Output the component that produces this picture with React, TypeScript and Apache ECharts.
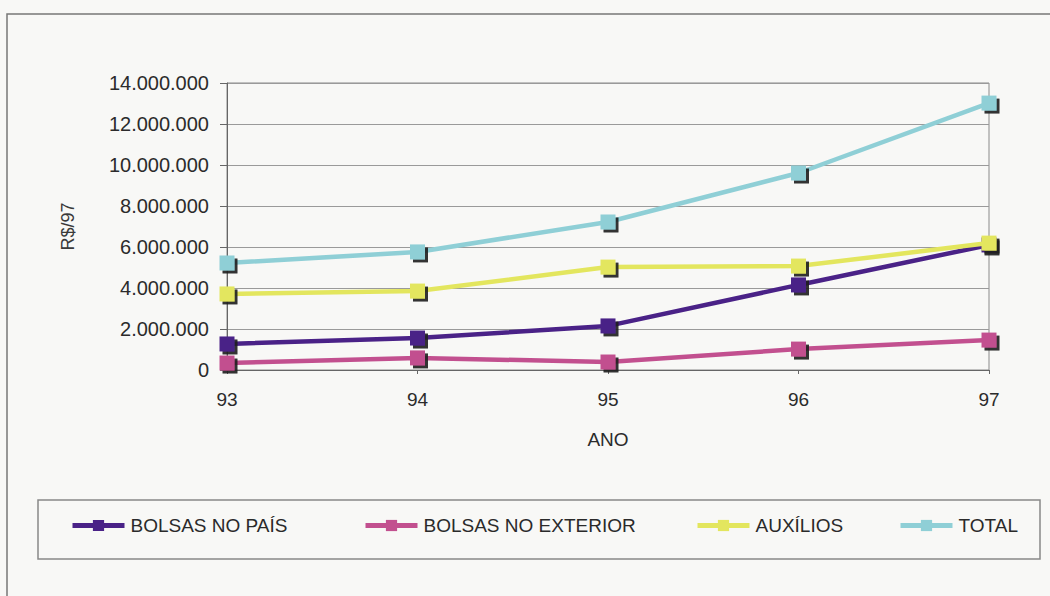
import React, { useEffect, useRef } from "react";
import * as echarts from "echarts";

// Anos e valores (R$ de 1997)
const years = ["93", "94", "95", "96", "97"];
const bolsasNoPais = [1270000, 1560000, 2150000, 4150000, 6100000];
const bolsasNoExterior = [340000, 590000, 390000, 1020000, 1460000];
const auxilios = [3710000, 3850000, 5020000, 5070000, 6190000];
const total = [5220000, 5760000, 7220000, 9610000, 13020000];

const seriesNames = ["BOLSAS NO PAÍS", "BOLSAS NO EXTERIOR", "AUXÍLIOS", "TOTAL"];
const seriesColors = ["#4a2287", "#c2508f", "#e3e65e", "#8fcfd6"];
const legendLeft = [70, 363, 695, 898];

const fmt = (v: number) =>
  String(v).replace(/\B(?=(\d{3})+(?!\d))/g, ".");

export default function App() {
  const ref = useRef<HTMLDivElement>(null);

  useEffect(() => {
    if (!ref.current) return;
    const chart = echarts.init(ref.current, null, { renderer: "svg" });
    const font = "'Liberation Sans', Arial, sans-serif";
    const dataSets = [bolsasNoPais, bolsasNoExterior, auxilios, total];

    chart.setOption({
      animation: false,
      backgroundColor: "#f8f8f6",
      textStyle: { fontFamily: font },
      grid: {
        left: 227,
        right: 61,
        top: 83,
        bottom: 226,
        show: true,
        borderColor: "#8a8a8a",
        borderWidth: 1,
        backgroundColor: "transparent",
      },
      xAxis: {
        type: "category",
        data: years,
        boundaryGap: false,
        name: "ANO",
        nameLocation: "middle",
        nameGap: 60,
        nameTextStyle: { fontSize: 19, color: "#2b2b2b", fontFamily: font },
        axisLine: { lineStyle: { color: "#666", width: 1 } },
        axisTick: { show: true, length: 4, lineStyle: { color: "#666" } },
        axisLabel: { fontSize: 19, color: "#2b2b2b", margin: 20, fontFamily: font },
      },
      yAxis: {
        type: "value",
        min: 0,
        max: 14000000,
        interval: 2000000,
        name: "R$/97",
        nameLocation: "middle",
        nameGap: 150,
        nameRotate: 90,
        nameTextStyle: { fontSize: 18, color: "#3a3a3a", fontFamily: font },
        axisLine: { show: true, lineStyle: { color: "#666", width: 1 } },
        axisTick: { show: true, length: 7, lineStyle: { color: "#666" } },
        axisLabel: {
          fontSize: 20,
          color: "#2b2b2b",
          margin: 18,
          fontFamily: font,
          formatter: (v: number) => fmt(v),
        },
        splitLine: { show: true, lineStyle: { color: "#9a9a9a", width: 1 } },
      },
      legend: seriesNames.map((name, i) => ({
        data: [name],
        left: legendLeft[i],
        top: 516,
        padding: 0,
        itemWidth: 52,
        itemHeight: 14,
        itemGap: 0,
        lineStyle: { width: 5 },
        textStyle: { fontSize: 19, color: "#2a2a2a", fontFamily: font, padding: [0, 0, 0, 1] },
      })),
      series: seriesNames.map((name, i) => ({
        name,
        type: "line",
        data: dataSets[i],
        symbol: "rect",
        symbolSize: 15,
        lineStyle: { color: seriesColors[i], width: 4.5 },
        itemStyle: {
          color: seriesColors[i],
          shadowColor: "rgba(30,30,30,0.9)",
          shadowBlur: 0,
          shadowOffsetX: 3,
          shadowOffsetY: 3,
        },
        z: 2 + i,
      })),
      graphic: [
        {
          type: "rect",
          shape: { x: 7, y: 14, width: 1100, height: 700 },
          style: { fill: "none", stroke: "#777", lineWidth: 1.5 },
          silent: true,
          z: -1,
        },
        {
          type: "rect",
          shape: { x: 38, y: 500, width: 1002, height: 59 },
          style: { fill: "none", stroke: "#888", lineWidth: 1.5 },
          silent: true,
          z: -1,
        },
      ],
    });

    return () => chart.dispose();
  }, []);

  return (
    <div
      ref={ref}
      style={{ position: "fixed", left: 0, top: 0, width: 1050, height: 596 }}
    />
  );
}
